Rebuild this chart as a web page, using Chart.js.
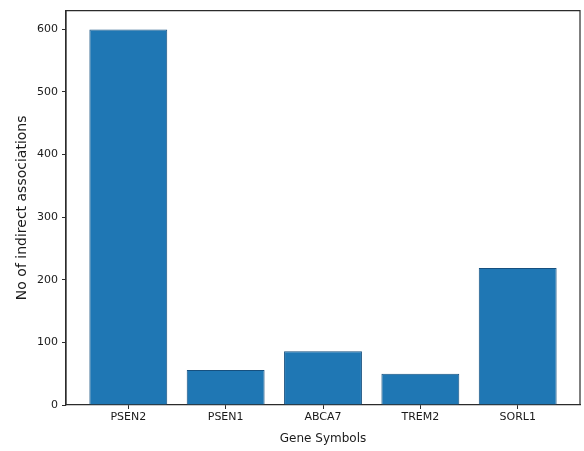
<!DOCTYPE html>
<html>
<head>
<meta charset="utf-8">
<script src="https://cdn.jsdelivr.net/npm/chart.js@4/dist/chart.umd.min.js"></script>
<style>
  html, body { margin: 0; padding: 0; background: #ffffff; }
  #wrap { width: 584px; height: 451px; }
</style>
</head>
<body>
<div id="wrap"><canvas id="c" width="584" height="451"></canvas></div>
<script>
// Gene symbols and their counts of indirect associations
const genes = ['PSEN2', 'PSEN1', 'ABCA7', 'TREM2', 'SORL1'];
const associations = [600, 56, 86, 50, 219];
const yTicks = [0, 100, 200, 300, 400, 500, 600];

const axisColor = '#2b2b2b';
const textColor = '#1a1a1a';
const fontFamily = '"DejaVu Sans", sans-serif';

// Draws the top and right spines around the plotting area
const frame = {
  id: 'frame',
  afterDraw(chart) {
    const { ctx, chartArea: a } = chart;
    ctx.save();
    ctx.strokeStyle = axisColor;
    ctx.lineWidth = 1.2;
    ctx.beginPath();
    ctx.moveTo(a.left, a.bottom);
    ctx.lineTo(a.left, a.top);
    ctx.lineTo(a.right, a.top);
    ctx.lineTo(a.right, a.bottom);
    ctx.stroke();
    ctx.restore();
  }
};

new Chart(document.getElementById('c'), {
  type: 'bar',
  data: {
    datasets: [{
      data: genes.map((g, i) => ({ x: i, y: associations[i] })),
      backgroundColor: '#1f77b4',
      borderColor: '#16507f',
      borderWidth: 1,
      categoryPercentage: 1,
      barPercentage: 0.8
    }]
  },
  options: {
    responsive: false,
    animation: false,
    layout: { padding: { top: 10, right: 4, left: 0, bottom: 5 } },
    plugins: { legend: { display: false }, tooltip: { enabled: false } },
    scales: {
      x: {
        type: 'linear',
        min: -0.64,
        max: 4.64,
        offset: false,
        afterBuildTicks(scale) { scale.ticks = genes.map((g, i) => ({ value: i })); },
        afterFit(scale) { scale.height = 41; },
        ticks: {
          callback: (v) => genes[v],
          color: textColor,
          font: { family: fontFamily, size: 11 },
          padding: 2,
          autoSkip: false,
          maxRotation: 0
        },
        grid: { display: true, drawOnChartArea: false, drawTicks: true, tickLength: 4, color: axisColor, offset: false },
        border: { display: true, color: axisColor, width: 1.2 },
        title: {
          display: true,
          text: 'Gene Symbols',
          color: textColor,
          font: { family: fontFamily, size: 12 },
          padding: { top: 0, bottom: 0 }
        }
      },
      y: {
        min: 0,
        max: 630,
        afterBuildTicks(scale) { scale.ticks = yTicks.map(v => ({ value: v })); },
        afterFit(scale) { scale.width = 66; },
        ticks: {
          color: textColor,
          font: { family: fontFamily, size: 11 },
          padding: 4
        },
        grid: { display: true, drawOnChartArea: false, drawTicks: true, tickLength: 4, color: axisColor },
        border: { display: true, color: axisColor, width: 1.2 },
        title: {
          display: true,
          text: 'No of indirect associations',
          color: textColor,
          font: { family: fontFamily, size: 14 },
          padding: { top: 14, bottom: 0 }
        }
      }
    }
  },
  plugins: [frame]
});
</script>
</body>
</html>
